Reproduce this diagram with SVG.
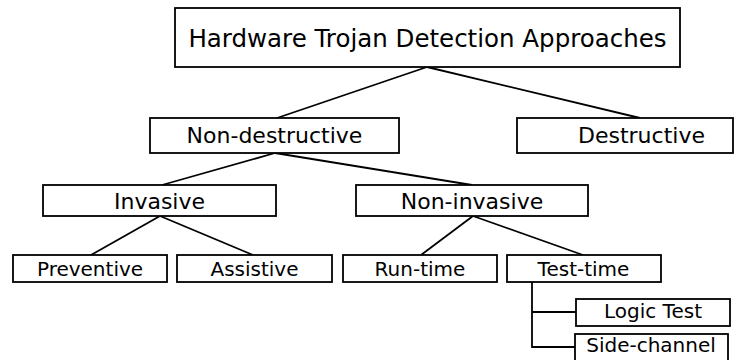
<svg xmlns="http://www.w3.org/2000/svg" width="755" height="360" viewBox="0 0 755 360">
<style>
rect { fill: #fff; stroke: #000; stroke-width: 1.8; }
.c line, .c polyline { stroke: #000; stroke-width: 1.8; fill: none; }
text { font-family: "DejaVu Sans", "Liberation Sans", sans-serif; font-size: 20px; fill: #000; text-anchor: middle; }
.t { font-size: 24.5px; }
.m { font-size: 22px; }
</style>
<rect x="0" y="0" width="755" height="360" style="stroke:none;fill:#fff"/>
<g class="c" id="connectors">
<line x1="427" y1="67" x2="277" y2="118"/>
<line x1="427" y1="67" x2="640" y2="118"/>
<line x1="275" y1="153" x2="162" y2="185"/>
<line x1="275" y1="153" x2="472" y2="185"/>
<line x1="160" y1="216" x2="91" y2="255"/>
<line x1="160" y1="216" x2="253" y2="255"/>
<line x1="473" y1="216" x2="421" y2="255"/>
<line x1="473" y1="216" x2="583" y2="255"/>
<polyline points="532,282 532,347 575,347"/>
<line x1="532" y1="312" x2="576" y2="312"/>
</g>
<g id="root"><rect x="175" y="8" width="505" height="59"/><text class="t" x="427.5" y="46.5">Hardware Trojan Detection Approaches</text></g>
<g id="nondestructive"><rect x="150" y="118" width="249" height="35"/><text class="m" x="274.5" y="143">Non-destructive</text></g>
<g id="destructive"><rect x="517" y="118" width="216" height="35"/><text class="m" x="641.5" y="143">Destructive</text></g>
<g id="invasive"><rect x="43" y="185" width="233" height="31"/><text class="m" x="159.5" y="208.5">Invasive</text></g>
<g id="noninvasive"><rect x="356" y="185" width="232" height="31"/><text class="m" x="472" y="208.5">Non-invasive</text></g>
<g id="preventive"><rect x="13" y="255" width="154" height="27"/><text x="90" y="276">Preventive</text></g>
<g id="assistive"><rect x="177" y="255" width="155" height="27"/><text x="254.5" y="276">Assistive</text></g>
<g id="runtime"><rect x="343" y="255" width="154" height="27"/><text x="420" y="276">Run-time</text></g>
<g id="testtime"><rect x="507" y="255" width="154" height="27"/><text x="583.5" y="276">Test-time</text></g>
<g id="logictest"><rect x="576" y="299" width="154" height="27"/><text x="653" y="318">Logic Test</text></g>
<g id="sidechannel"><rect x="575" y="334" width="153" height="27"/><text x="651" y="352">Side-channel</text></g>
</svg>
